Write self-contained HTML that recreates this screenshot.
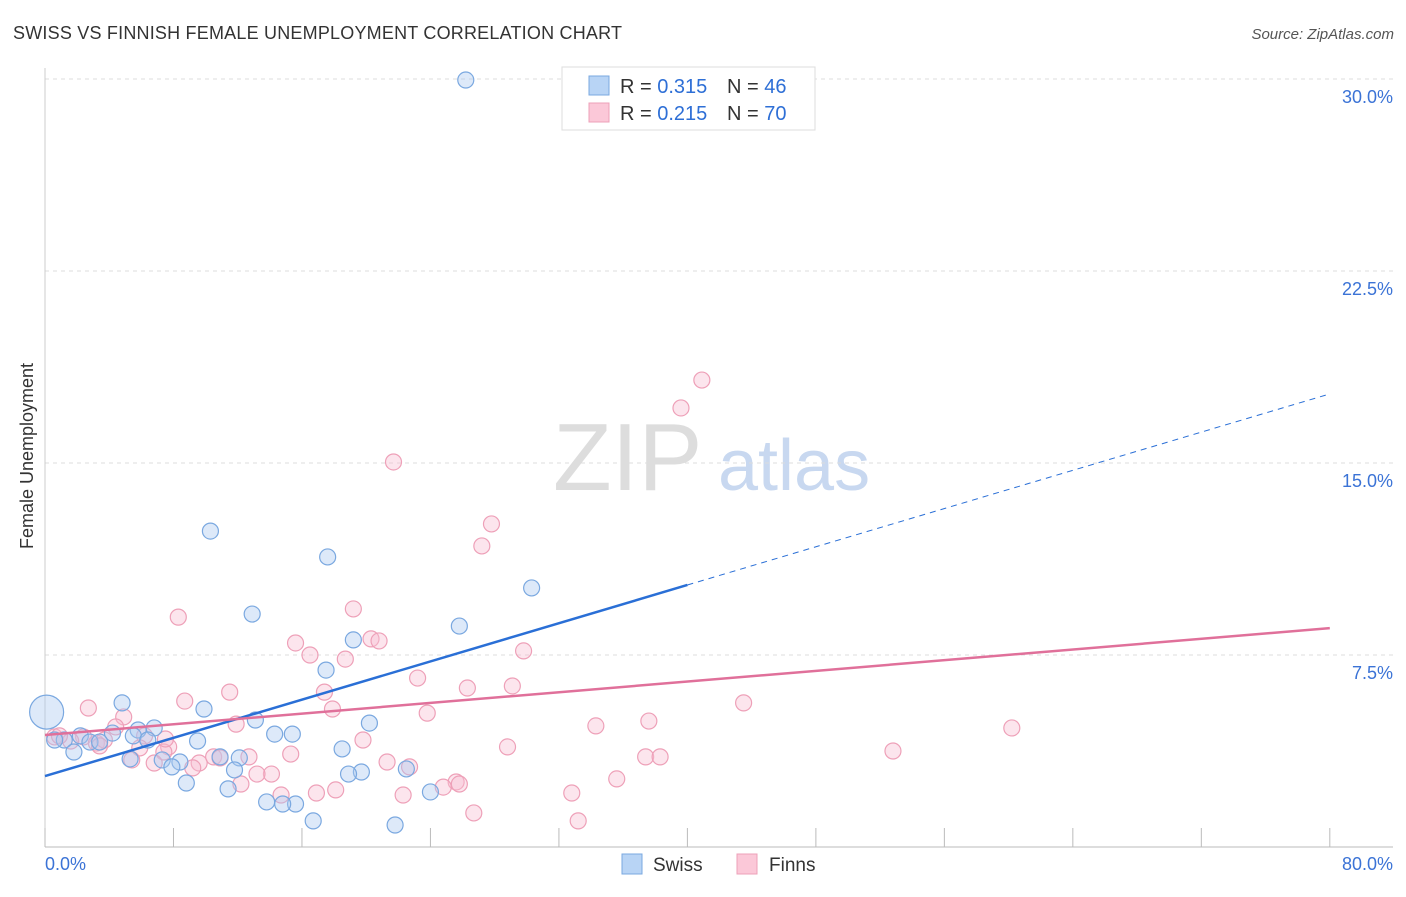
<!DOCTYPE html>
<html><head><meta charset="utf-8">
<style>
body{margin:0;background:#fff;font-family:"Liberation Sans",sans-serif;}
svg text{font-family:"Liberation Sans",sans-serif;}
</style></head>
<body>
<svg id="chart" width="1406" height="892" xmlns="http://www.w3.org/2000/svg">
<text x="13" y="39" font-size="18" fill="#333" textLength="609">SWISS VS FINNISH FEMALE UNEMPLOYMENT CORRELATION CHART</text>
<text x="1394" y="39" font-size="15" fill="#555" text-anchor="end" font-style="italic">Source: ZipAtlas.com</text>
<text x="553" y="490" font-size="96" fill="#ddd" font-family="Liberation Serif">ZIP</text>
<text x="718" y="490" font-size="72" fill="#c8d8f0">atlas</text>
<text transform="translate(33,456) rotate(-90)" font-size="18" fill="#333" text-anchor="middle">Female Unemployment</text>
<g id="grid"></g>
<g id="marks"></g>
<g>
<rect x="562" y="67" width="253" height="63" fill="#fff" stroke="#ddd"/>
<rect x="589" y="76" width="20" height="19" fill="#b8d4f5" stroke="#7aa8e0"/>
<rect x="589" y="103" width="20" height="19" fill="#fbc8d8" stroke="#eea0b8"/>
<text x="620" y="93" font-size="20" fill="#333">R = <tspan fill="#2e6fd6">0.315</tspan></text>
<text x="727" y="93" font-size="20" fill="#333">N = <tspan fill="#2e6fd6">46</tspan></text>
<text x="620" y="120" font-size="20" fill="#333">R = <tspan fill="#2e6fd6">0.215</tspan></text>
<text x="727" y="120" font-size="20" fill="#333">N = <tspan fill="#2e6fd6">70</tspan></text>
</g>
<g>
<rect x="622" y="854" width="20" height="20" fill="#b8d4f5" stroke="#7aa8e0"/>
<text x="653" y="871" font-size="19" fill="#333">Swiss</text>
<rect x="737" y="854" width="20" height="20" fill="#fbc8d8" stroke="#eea0b8"/>
<text x="769" y="871" font-size="19" fill="#333">Finns</text>
</g>
</svg>
<script>
const yTicks=[7.5,15,22.5,30];
const yTickLabels=["7.5%","15.0%","22.5%","30.0%"];
const xTicks=[0,8,16,24,32,40,48,56,64,72,80];
const swissX=[26.2,10.3,17.6,30.3,12.9,25.8,19.2,17.5,4.8,9.9,13.1,20.2,6.8,5.8,4.2,5.5,15.4,14.3,2.2,1.2,0.6,2.8,3.4,9.5,6.4,1.8,18.5,12.1,10.9,5.3,7.3,8.4,7.9,11.8,22.5,19.7,18.9,8.8,11.4,24.0,13.8,15.6,14.8,16.7,21.8,0.1];
const swissY=[29.96,12.34,11.33,10.12,9.10,8.63,8.09,6.91,5.63,5.39,4.96,4.84,4.65,4.57,4.45,4.34,4.41,4.41,4.34,4.18,4.18,4.10,4.10,4.14,4.18,3.71,3.83,3.48,3.52,3.44,3.40,3.32,3.13,3.01,3.05,2.93,2.85,2.50,2.27,2.15,1.76,1.68,1.68,1.02,0.86,5.27];
const finnsX=[40.9,39.6,21.7,27.8,27.2,8.3,19.2,20.3,20.8,15.6,16.5,29.8,18.7,23.2,17.4,26.3,29.1,8.7,11.5,43.5,2.7,17.9,4.9,23.8,11.9,34.3,37.6,60.2,4.4,6.2,2.4,3.2,3.7,19.8,5.9,7.7,7.4,28.8,52.8,15.3,12.7,10.5,10.9,37.4,38.3,5.4,6.8,9.6,9.2,21.3,22.7,14.1,13.2,12.2,35.6,25.6,25.8,24.8,18.1,16.9,22.3,32.8,14.7,26.7,33.2,0.6,1.6,7.5,0.9,3.4];
const finnsY=[18.24,17.15,15.04,12.62,11.76,8.98,9.30,8.13,8.05,7.97,7.50,7.66,7.34,6.60,6.05,6.21,6.29,5.70,6.05,5.63,5.43,5.39,5.08,5.23,4.80,4.73,4.92,4.65,4.69,4.34,4.30,4.06,4.18,4.18,3.87,3.91,3.71,3.91,3.75,3.63,3.52,3.52,3.48,3.52,3.52,3.40,3.28,3.28,3.09,3.32,3.13,2.85,2.85,2.46,2.66,2.54,2.46,2.34,2.23,2.11,2.03,2.11,2.03,1.33,1.02,4.30,4.14,4.22,4.34,3.95];
const X=v=>45+v*16.06, Y=v=>847-v*25.6;
const ns="http://www.w3.org/2000/svg";
const grid=document.getElementById('grid'), marks=document.getElementById('marks');
function mk(tag,attrs,parent){const e=document.createElementNS(ns,tag);for(const k in attrs)e.setAttribute(k,attrs[k]);parent.appendChild(e);return e;}
yTicks.forEach((t,i)=>{
 const l=mk('line',{x1:45,x2:1393,y1:Y(t),y2:Y(t),stroke:'#ddd','stroke-dasharray':'4,4'},grid);
 
 
 const tx=mk('text',{x:1393,y:Y(t)+24,'font-size':18,fill:'#3b73d6','text-anchor':'end'},grid);
 tx.textContent=yTickLabels[i];
 
 
});
const ax=mk('line',{x1:45,x2:1393,y1:847,y2:847,stroke:'#bbb'},grid);


const ay=mk('line',{x1:45,x2:45,y1:68,y2:847,stroke:'#ccc'},grid);


xTicks.forEach(t=>{const l=mk('line',{x1:X(t),x2:X(t),y1:828,y2:847,stroke:'#bbb'},grid);
 
 });
const x0=mk('text',{x:45,y:870,'font-size':18,fill:'#3b73d6'},grid);x0.textContent='0.0%';


const x1=mk('text',{x:1393,y:870,'font-size':18,fill:'#3b73d6','text-anchor':'end'},grid);x1.textContent='80.0%';


finnsX.forEach((x,i)=>{const c=mk('circle',{cx:X(x),cy:Y(finnsY[i]),r:8,fill:'rgba(248,190,210,0.4)',stroke:'#eea0b8','stroke-width':1.2},marks);
 
 });
swissX.forEach((x,i)=>{const c=mk('circle',{cx:X(x),cy:Y(swissY[i]),r:i==swissX.length-1?17:8,fill:'rgba(170,200,240,0.4)',stroke:'#7aa8e0','stroke-width':1.2},marks);
 
 });
const sb0=2.77, sb1=17.7, fb0=4.375, fb1=8.55;
const sl=mk('line',{x1:X(0),y1:Y(sb0),x2:X(40),y2:Y(sb0+(sb1-sb0)/2),stroke:'#2a6fd6','stroke-width':2.5},marks);


const sd=mk('line',{x1:X(40),y1:Y(sb0+(sb1-sb0)/2),x2:X(80),y2:Y(sb1),stroke:'#2a6fd6','stroke-width':1,'stroke-dasharray':'6,5'},marks);


const fl=mk('line',{x1:X(0),y1:Y(fb0),x2:X(80),y2:Y(fb1),stroke:'#e0709a','stroke-width':2.5},marks);


</script>
</body></html>
